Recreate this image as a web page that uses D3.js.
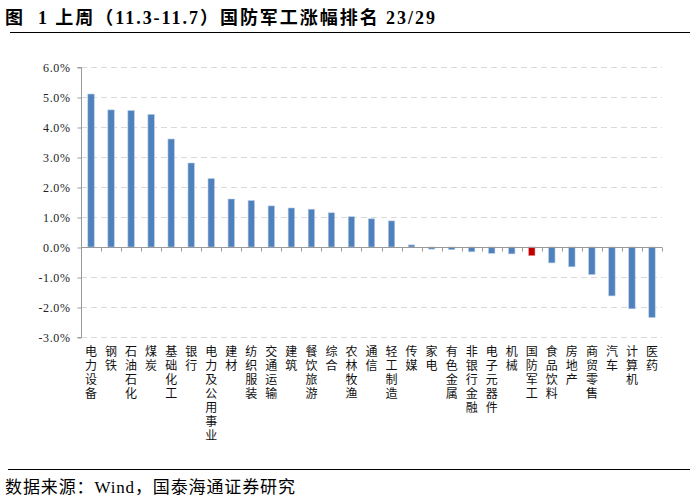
<!DOCTYPE html>
<html><head><meta charset="utf-8">
<script src="https://cdn.jsdelivr.net/npm/d3@7"></script>
<style>body{margin:0;background:#fff}svg{display:block}</style>
</head><body>
<svg id="c" width="695" height="499"></svg>
<script>
const categories = ["电力设备","钢铁","石油石化","煤炭","基础化工","银行","电力及公用事业","建材","纺织服装","交通运输","建筑","餐饮旅游","综合","农林牧渔","通信","轻工制造","传媒","家电","有色金属","非银行金融","电子元器件","机械","国防军工","食品饮料","房地产","商贸零售","汽车","计算机","医药"];
const values = [5.10,4.57,4.55,4.42,3.60,2.80,2.28,1.60,1.55,1.37,1.30,1.26,1.14,1.01,0.94,0.87,0.07,-0.07,-0.09,-0.16,-0.21,-0.23,-0.29,-0.53,-0.66,-0.92,-1.63,-2.06,-2.35];
const highlight = "国防军工";
const yTicks = [-3,-2,-1,0,1,2,3,4,5,6];
const title = "图  1 上周（11.3-11.7）国防军工涨幅排名 23/29";
const source = "数据来源：Wind，国泰海通证券研究";

const svg = d3.select("#c");
const pLeft = 81, pRight = 662, pTop = 67, pBottom = 337;
const y = d3.scaleLinear().domain([-3,6]).range([pBottom, pTop]);
const x = d3.scaleBand().domain(categories).range([pLeft, pRight]).paddingInner(0.68).paddingOuter(0.34);

// title
svg.append("text").attr("x",5).attr("y",24).attr("xml:space","preserve")
  .attr("textLength",430).attr("lengthAdjust","spacing")
  .style("font-family","'Liberation Serif','Noto Sans CJK SC',serif")
  .style("font-weight","bold").style("font-size","18px").text(title);
svg.append("line").attr("x1",10).attr("x2",690).attr("y1",32.5).attr("y2",32.5).attr("stroke","#000").attr("stroke-width",1);

// gridlines
svg.append("g").selectAll("line").data(yTicks.filter(d=>d!==0)).join("line")
  .attr("x1",pLeft).attr("x2",pRight).attr("y1",d=>Math.round(y(d))+0.5).attr("y2",d=>Math.round(y(d))+0.5)
  .attr("stroke","#d9d9d9").attr("stroke-dasharray","6,4");

// y axis
const yAxis = d3.axisLeft(y).tickValues(yTicks).tickSize(4).tickFormat(d=>d.toFixed(1)+"%");
const gy = svg.append("g").attr("transform",`translate(${pLeft+0.5},0.5)`).call(yAxis);
gy.select(".domain").attr("stroke","#999").attr("d",`M-4,${y(-3)}H0V${y(6)}H-4`);
gy.selectAll(".tick line").attr("stroke","#999");
gy.selectAll(".tick text").attr("x",-11).style("font-family","'Liberation Serif','DejaVu Serif',serif")
  .style("font-size","12px").style("letter-spacing","0.6px").attr("fill","#222");

// bars
svg.append("g").selectAll("rect").data(categories).join("rect")
  .attr("x",d=>x(d)).attr("width",x.bandwidth())
  .attr("y",(d,i)=>y(Math.max(0,values[i])))
  .attr("height",(d,i)=>Math.abs(y(values[i])-y(0)))
  .attr("fill",d=>d===highlight?"#C00000":"#4F81BD")
  .attr("stroke",d=>d===highlight?"#e8a0a0":"#b8cce4").attr("stroke-width",0.6);

// zero axis
const step = x.step();
const z = Math.round(y(0))+0.5;
svg.append("line").attr("x1",pLeft).attr("x2",pRight).attr("y1",z).attr("y2",z).attr("stroke","#999");
svg.append("g").selectAll("line").data(d3.range(categories.length+1)).join("line")
  .attr("x1",i=>Math.round(pLeft+i*step)+0.5).attr("x2",i=>Math.round(pLeft+i*step)+0.5)
  .attr("y1",z).attr("y2",z+4).attr("stroke","#999");

// x labels vertical
svg.append("g").selectAll("text").data(categories).join("text")
  .attr("x",d=>x(d)+x.bandwidth()/2).attr("y",345)
  .style("writing-mode","vertical-rl").style("text-orientation","upright")
  .style("letter-spacing","2px")
  .style("font-family","'Noto Sans CJK SC',sans-serif").style("font-size","12px").attr("fill","#111")
  .text(d=>d);

// footer
svg.append("line").attr("x1",8).attr("x2",690).attr("y1",469.5).attr("y2",469.5).attr("stroke","#000");
svg.append("text").attr("x",5).attr("y",493).attr("textLength",290).attr("lengthAdjust","spacing")
  .style("font-family","'Liberation Serif','Noto Sans CJK SC',serif").style("font-size","17px").text(source);
</script>
</body></html>
